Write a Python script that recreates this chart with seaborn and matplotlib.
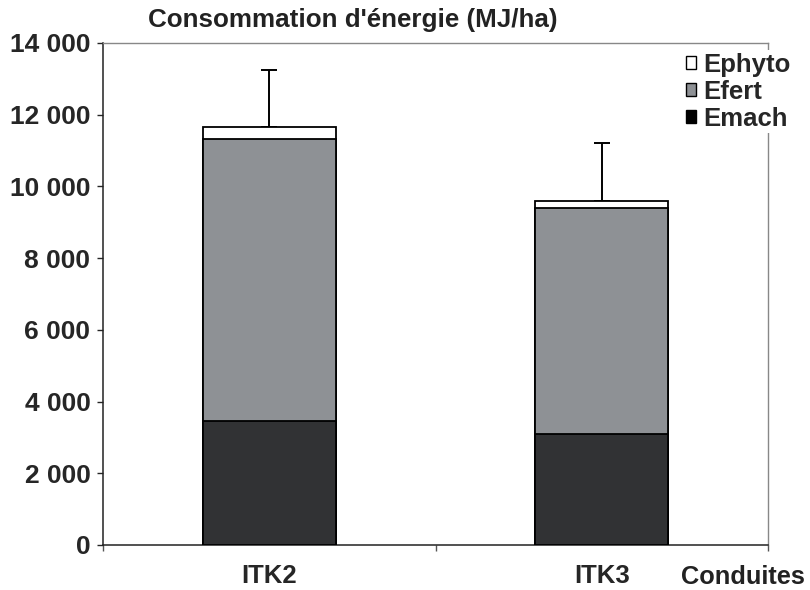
import numpy as np
import pandas as pd
import matplotlib
matplotlib.use("Agg")
import matplotlib.pyplot as plt
import seaborn as sns
from matplotlib.patches import Patch
from matplotlib.ticker import FuncFormatter

categories = ["ITK2", "ITK3"]
emach = [3460, 3100]
efert = [7860, 6310]
ephyto = [340, 170]
err_up = [1590, 1640]
yticks = [0, 2000, 4000, 6000, 8000, 10000, 12000, 14000]

sns.set_style("ticks")
plt.rcParams['font.family'] = ['Liberation Sans', 'DejaVu Sans']
plt.rcParams['font.weight'] = 'bold'

df = pd.DataFrame({"cat": categories, "Emach": emach, "Efert": efert, "Ephyto": ephyto})
df["c_mach"] = df["Emach"]
df["c_fert"] = df["Emach"] + df["Efert"]
df["c_phyto"] = df["c_fert"] + df["Ephyto"]

fig = plt.figure(figsize=(8.1, 5.9), dpi=100)
ax = fig.add_axes([103/810, 1-545/590, (768-103)/810, (545-43)/590])

col_phyto = "#ffffff"
col_fert = "#8e9195"
col_mach = "#313234"

# error bars (upper only) drawn behind bars
ax.errorbar(x=np.arange(len(categories)), y=df["c_phyto"],
            yerr=[np.zeros(len(categories)), err_up], fmt="none",
            ecolor="black", elinewidth=1.4, capsize=6, capthick=1.4, zorder=1)

for col, colr in [("c_phyto", col_phyto), ("c_fert", col_fert), ("c_mach", col_mach)]:
    sns.barplot(data=df, x="cat", y=col, color=colr, edgecolor="black",
                linewidth=1.3, width=0.4, saturation=1, ax=ax, zorder=3)

ax.set_xlim(-0.5, 1.5)
ax.set_ylim(0, 14000)
ax.set_yticks(yticks)
ax.yaxis.set_major_formatter(FuncFormatter(lambda v, p: f"{int(v):,}".replace(",", " ")))
ax.set_xlabel("")
ax.set_ylabel("")

ax.set_xticks([0, 1])
ax.set_xticklabels(categories)
ax.set_xticks([-0.5, 0.5, 1.5], minor=True)
ax.tick_params(axis="x", which="major", length=0, pad=14, labelsize=18.5)
ax.tick_params(axis="x", which="minor", length=4, width=1, color="#555555")
ax.tick_params(axis="y", length=4, width=1, pad=5, labelsize=19)
for lab in ax.get_xticklabels() + ax.get_yticklabels():
    lab.set_fontweight("bold")

for s in ["left", "bottom"]:
    ax.spines[s].set_color("#222222")
    ax.spines[s].set_linewidth(1.1)
for s in ["top", "right"]:
    ax.spines[s].set_color("#888888")
    ax.spines[s].set_linewidth(1.0)
    ax.spines[s].set_visible(True)

fig.text(148/810, 1-20/590, "Consommation d'énergie (MJ/ha)", ha="left", va="center",
         fontsize=18.7, fontweight="bold", color="#222222")
fig.text(805/810, 1-577/590, "Conduites", ha="right", va="center",
         fontsize=18.3, fontweight="bold", color="#222222")

handles = [Patch(facecolor=col_phyto, edgecolor="black", label="Ephyto"),
           Patch(facecolor=col_fert, edgecolor="black", label="Efert"),
           Patch(facecolor="#000000", edgecolor="black", label="Emach")]
leg = ax.legend(handles=handles, loc="upper left", bbox_to_anchor=(683/810, 1-50/590),
                bbox_transform=fig.transFigure, frameon=True, fancybox=False,
                handlelength=0.4, handleheight=0.4, handletextpad=0.3,
                labelspacing=0.12, borderpad=0.1, borderaxespad=0,
                prop={"size": 18.5, "weight": "bold"})
leg.get_frame().set_edgecolor("none")
leg.get_frame().set_facecolor("white")
leg.get_frame().set_alpha(1)
leg.set_zorder(10)

fig.savefig("out.png", dpi=100)
